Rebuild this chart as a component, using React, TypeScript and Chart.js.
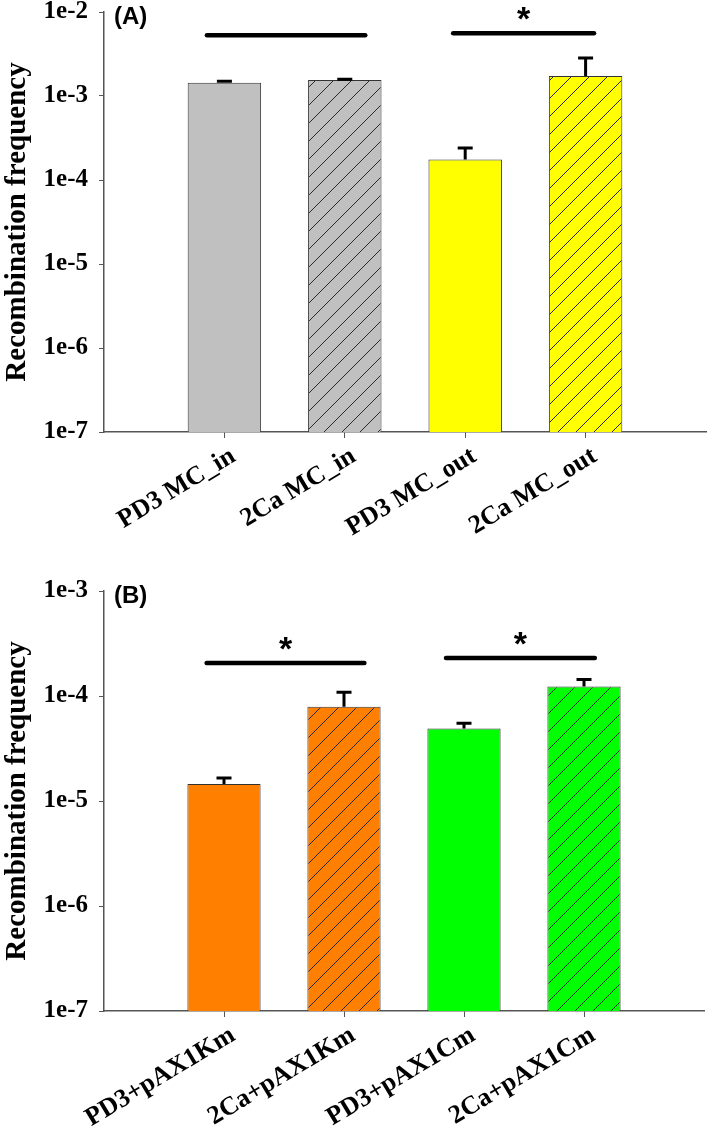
import React, { useEffect, useRef } from 'react';
import { Chart, registerables } from 'chart.js';

Chart.register(...registerables);

// ---------- Panel A data ----------
const categoriesA = ['PD3 MC_in', '2Ca MC_in', 'PD3 MC_out', '2Ca MC_out'];
const valuesA = [1.44e-3, 1.55e-3, 1.76e-4, 1.73e-3];
const errorsA = [0.08e-3, 0.05e-3, 0.67e-4, 1.15e-3];
const colorsA = ['#c0c0c0', '#c0c0c0', '#ffff00', '#ffff00'];
const hatchedA = [false, true, false, true];
const sigFromA = [0.855, 2.9];
const sigToA = [2.17, 4.07];
const sigLevelA = [5.3e-3, 5.6e-3];
const sigStarA = [false, true];
const tickExpA = [-7, -6, -5, -4, -3, -2];

// ---------- Panel B data ----------
const categoriesB = ['PD3+pAX1Km', '2Ca+pAX1Km', 'PD3+pAX1Cm', '2Ca+pAX1Cm'];
const valuesB = [1.45e-5, 7.9e-5, 4.89e-5, 1.23e-4];
const errorsB = [0.22e-5, 3.1e-5, 0.68e-5, 0.22e-4];
const colorsB = ['#ff8000', '#ff8000', '#00ff00', '#00ff00'];
const hatchedB = [false, true, false, true];
const sigFromB = [0.855, 2.85];
const sigToB = [2.17, 4.09];
const sigLevelB = [2.06e-4, 2.3e-4];
const sigStarB = [true, true];
const tickExpB = [-7, -6, -5, -4, -3];

const SERIF = "'Liberation Serif', 'Times New Roman', serif";
const SANS = "'Liberation Sans', Arial, sans-serif";

function makePattern(color: string) {
  const size = 18;
  const c = document.createElement('canvas');
  c.width = size;
  c.height = size;
  const g = c.getContext('2d')!;
  g.fillStyle = color;
  g.fillRect(0, 0, size, size);
  g.strokeStyle = '#2a2a2a';
  g.lineWidth = 1;
  g.beginPath();
  g.moveTo(0, size);
  g.lineTo(size, 0);
  g.moveTo(-3, 3);
  g.lineTo(3, -3);
  g.moveTo(size - 3, size + 3);
  g.lineTo(size + 3, size - 3);
  g.stroke();
  return g.createPattern(c, 'repeat');
}

type PanelProps = {
  top: number;
  height: number;
  labels: string[];
  values: number[];
  errors: number[];
  colors: string[];
  hatched: boolean[];
  sigFrom: number[];
  sigTo: number[];
  sigLevel: number[];
  sigStar: boolean[];
  tickExp: number[];
  panelLabel: string;
  padTop: number;
  padRight: number;
  axisWidth: number;
  xAxisHeight: number;
};

function Panel(p: PanelProps) {
  const ref = useRef<HTMLCanvasElement | null>(null);

  useEffect(() => {
    if (!ref.current) return;
    const n = p.labels.length;
    const bg: any[] = p.colors.map((c, i) => (p.hatched[i] ? makePattern(c) : c));

    const overlay = {
      id: 'overlay' + p.panelLabel,
      afterDatasetsDraw(chart: any) {
        const ctx = chart.ctx;
        const ys = chart.scales.y;
        const xs = chart.scales.x;
        const meta = chart.getDatasetMeta(0);
        ctx.save();
        // error bars
        ctx.strokeStyle = '#000';
        ctx.lineWidth = 3;
        ctx.lineCap = 'butt';
        p.values.forEach((v, i) => {
          const bar = meta.data[i + 1];
          const x = bar.x;
          const y0 = ys.getPixelForValue(v);
          const y1 = ys.getPixelForValue(v + p.errors[i]);
          ctx.beginPath();
          ctx.moveTo(x, y0);
          ctx.lineTo(x, y1);
          ctx.moveTo(x - 7.5, y1 + 0.5);
          ctx.lineTo(x + 7.5, y1 + 0.5);
          ctx.stroke();
        });
        // significance lines
        ctx.lineWidth = 4.5;
        ctx.lineCap = 'round';
        p.sigFrom.forEach((f, i) => {
          const xa = xs.getPixelForValue(f);
          const xb = xs.getPixelForValue(p.sigTo[i]);
          const y = ys.getPixelForValue(p.sigLevel[i]);
          ctx.beginPath();
          ctx.moveTo(xa, y);
          ctx.lineTo(xb, y);
          ctx.stroke();
          if (p.sigStar[i]) {
            ctx.fillStyle = '#000';
            ctx.font = `bold 34px ${SANS}`;
            ctx.textAlign = 'center';
            ctx.textBaseline = 'alphabetic';
            ctx.fillText('*', (xa + xb) / 2, y - 3);
          }
        });
        // panel label
        ctx.fillStyle = '#000';
        ctx.font = `bold 24px ${SANS}`;
        ctx.textAlign = 'left';
        ctx.textBaseline = 'top';
        ctx.fillText(p.panelLabel, chart.chartArea.left + 10, chart.chartArea.top - 7);
        ctx.restore();
      },
    };

    const hidden = (i: number) => i === 0 || i === n + 1;

    const chart = new Chart(ref.current, {
      type: 'bar',
      data: {
        labels: ['', ...p.labels, ''],
        datasets: [
          {
            data: [null, ...p.values, null],
            backgroundColor: ['rgba(0,0,0,0)', ...bg, 'rgba(0,0,0,0)'],
            borderColor: '#333',
            borderWidth: 1,
            barPercentage: 0.61,
            categoryPercentage: 1,
          },
        ],
      },
      options: {
        responsive: false,
        animation: false,
        layout: { padding: { top: p.padTop, right: p.padRight, left: 0, bottom: 0 } },
        plugins: { legend: { display: false }, tooltip: { enabled: false } },
        scales: {
          x: {
            type: 'category',
            offset: false,
            grid: {
              offset: false,
              drawOnChartArea: false,
              drawTicks: true,
              tickLength: 6,
              color: (c: any) => (hidden(c.index) ? 'rgba(0,0,0,0)' : '#555'),
              tickColor: (c: any) => (hidden(c.index) ? 'rgba(0,0,0,0)' : '#555'),
            },
            border: { display: true, color: '#555', width: 1.5 },
            ticks: {
              autoSkip: false,
              minRotation: 31,
              maxRotation: 31,
              color: '#000',
              padding: 3,
              labelOffset: 9,
              font: { family: SERIF, weight: 'bold', size: 26 },
            },
            afterFit: (s: any) => {
              s.height = p.xAxisHeight;
              s.paddingLeft = 0;
              s.paddingRight = 0;
            },
          },
          y: {
            type: 'logarithmic',
            min: Number('1e' + p.tickExp[0]),
            max: Number('1e' + p.tickExp[p.tickExp.length - 1]),
            afterBuildTicks: (s: any) => {
              s.ticks = p.tickExp.map((e) => ({ value: Number('1e' + e) }));
            },
            ticks: {
              color: '#000',
              padding: 11,
              font: { family: SERIF, weight: 'bold', size: 25 },
              callback: (v: any) => '1e' + Math.round(Math.log10(Number(v))),
            },
            grid: { drawOnChartArea: false, drawTicks: true, tickLength: 5, color: '#555' },
            border: { display: true, color: '#555', width: 1.5 },
            title: {
              display: true,
              text: 'Recombination frequency',
              color: '#000',
              font: { family: SERIF, weight: 'bold', size: 29 },
              padding: { top: 0, bottom: 0 },
            },
            afterFit: (s: any) => {
              s.width = p.axisWidth;
              s.paddingTop = 0;
              s.paddingBottom = 0;
            },
          },
        },
      } as any,
      plugins: [overlay],
    });
    return () => chart.destroy();
  }, []);

  return (
    <canvas
      ref={ref}
      width={709}
      height={p.height}
      style={{ position: 'absolute', left: 0, top: p.top, width: 709, height: p.height, display: 'block' }}
    />
  );
}

export default function App() {
  return (
    <div style={{ position: 'absolute', left: 0, top: 0, width: 709, height: 1127, background: '#fff' }}>
      <Panel
        top={0}
        height={560}
        labels={categoriesA}
        values={valuesA}
        errors={errorsA}
        colors={colorsA}
        hatched={hatchedA}
        sigFrom={sigFromA}
        sigTo={sigToA}
        sigLevel={sigLevelA}
        sigStar={sigStarA}
        tickExp={tickExpA}
        panelLabel="(A)"
        padTop={12}
        padRight={3}
        axisWidth={104}
        xAxisHeight={128}
      />
      <Panel
        top={560}
        height={567}
        labels={categoriesB}
        values={valuesB}
        errors={errorsB}
        colors={colorsB}
        hatched={hatchedB}
        sigFrom={sigFromB}
        sigTo={sigToB}
        sigLevel={sigLevelB}
        sigStar={sigStarB}
        tickExp={tickExpB}
        panelLabel="(B)"
        padTop={31}
        padRight={5}
        axisWidth={104}
        xAxisHeight={116}
      />
    </div>
  );
}
